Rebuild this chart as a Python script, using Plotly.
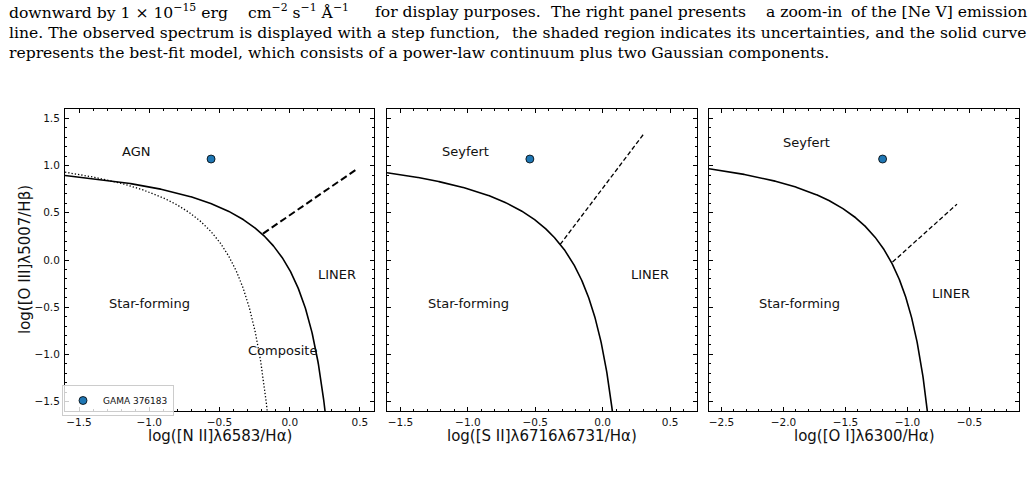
import numpy as np
import plotly.graph_objects as go

# ---------------- data ----------------
# demarcation curves  y = a / (x - b) + c
KE01_NII = (0.61, 0.47, 1.19)   # Kewley+01 (solid)
KA03_NII = (0.61, 0.05, 1.30)   # Kauffmann+03 (dotted)
KE01_SII = (0.72, 0.32, 1.30)
KE01_OI = (0.73, -0.59, 1.33)

# Seyfert / LINER separation lines (end points)
SL_NII_x = [-0.19, 0.47]
SL_NII_y = [0.28, 0.955]
SL_SII_x = [-0.315, 0.30]
SL_SII_y = [0.165, 1.327]
SL_OI_x = [-1.12, -0.60]
SL_OI_y = [-0.022, 0.592]

# GAMA 376183 line ratios
gama_x = [-0.56, -0.54, -1.20]
gama_y = [1.07, 1.07, 1.07]
gama_xerr = [0.02, 0.02, 0.02]
gama_yerr = [0.02, 0.02, 0.02]

x_ranges = [[-1.6, 0.6], [-1.6, 0.7], [-2.6, -0.1]]
y_range = [-1.6, 1.6]
x_titles = ["log([N II]λ6583/Hα)", "log([S II]λ6716λ6731/Hα)", "log([O I]λ6300/Hα)"]
y_title = "log([O III]λ5007/Hβ)"

region_labels = [
    [("AGN", -1.095, 1.15), ("LINER", 0.34, -0.15), ("Star-forming", -1.0, -0.46), ("Composite", -0.05, -0.96)],
    [("Seyfert", -1.02, 1.15), ("LINER", 0.35, -0.15), ("Star-forming", -0.995, -0.46)],
    [("Seyfert", -1.81, 1.245), ("LINER", -0.645, -0.355), ("Star-forming", -1.87, -0.46)],
]

# caption lines, justified text: (text chunk, x pixel, anchor)
caption_lines = [
    [("downward by 1 × 10<sup>−15</sup> erg", 7, "left"),
     ("cm<sup>−2</sup> s<sup>−1</sup> Å<sup>−1</sup>", 246, "left"),
     ("for display purposes.", 373, "left"),
     ("The right panel presents", 549, "left"),
     ("a zoom-in", 764, "left"),
     ("of the [Ne V] emission", 1029, "right")],
    [("line. The observed spectrum is displayed with a step function,", 7, "left"),
     ("the shaded region indicates its uncertainties, and the solid curve", 1029, "right")],
    [("represents the best-fit model, which consists of a power-law continuum plus two Gaussian components.", 7, "left")],
]

# ---------------- figure ----------------
W, H = 1034, 477
fig = go.Figure()

x_px = [(65, 374), (387, 697), (709, 1019)]
y_px = (109, 411)
ydom = [1 - y_px[1] / H, 1 - y_px[0] / H]


def curve(p, x0, ylo):
    a, b, c = p
    x_end = b + a / (ylo - c)
    xs = np.linspace(x0, x_end + 0.002, 600)
    return xs, a / (xs - b) + c


def ax_name(i, kind):
    return kind if i == 0 else f"{kind}{i + 1}"


TXT = "#111111"
FONT = "DejaVu Sans"

for i in range(3):
    xref, yref = ("x" if i == 0 else f"x{i+1}"), ("y" if i == 0 else f"y{i+1}")
    lo = x_ranges[i][0]
    if i == 0:
        xs, ys = curve(KE01_NII, lo, y_range[0])
        fig.add_trace(go.Scatter(x=xs, y=ys, mode="lines", line=dict(color="black", width=1.6),
                                 showlegend=False, xaxis=xref, yaxis=yref, hoverinfo="skip"))
        xs, ys = curve(KA03_NII, lo, y_range[0])
        fig.add_trace(go.Scatter(x=xs, y=ys, mode="lines", line=dict(color="black", width=1.3, dash="1.3px,2px"),
                                 showlegend=False, xaxis=xref, yaxis=yref, hoverinfo="skip"))
        fig.add_trace(go.Scatter(x=SL_NII_x, y=SL_NII_y, mode="lines",
                                 line=dict(color="black", width=2.0, dash="7px,3.5px"),
                                 showlegend=False, xaxis=xref, yaxis=yref, hoverinfo="skip"))
    elif i == 1:
        xs, ys = curve(KE01_SII, lo, y_range[0])
        fig.add_trace(go.Scatter(x=xs, y=ys, mode="lines", line=dict(color="black", width=1.6),
                                 showlegend=False, xaxis=xref, yaxis=yref, hoverinfo="skip"))
        fig.add_trace(go.Scatter(x=SL_SII_x, y=SL_SII_y, mode="lines",
                                 line=dict(color="black", width=1.3, dash="4.5px,2.5px"),
                                 showlegend=False, xaxis=xref, yaxis=yref, hoverinfo="skip"))
    else:
        xs, ys = curve(KE01_OI, lo, y_range[0])
        fig.add_trace(go.Scatter(x=xs, y=ys, mode="lines", line=dict(color="black", width=1.6),
                                 showlegend=False, xaxis=xref, yaxis=yref, hoverinfo="skip"))
        fig.add_trace(go.Scatter(x=SL_OI_x, y=SL_OI_y, mode="lines",
                                 line=dict(color="black", width=1.3, dash="4.5px,2.5px"),
                                 showlegend=False, xaxis=xref, yaxis=yref, hoverinfo="skip"))

    fig.add_trace(go.Scatter(
        x=[gama_x[i]], y=[gama_y[i]], mode="markers",
        marker=dict(color="#1f77b4", size=8, line=dict(color="black", width=0.8)),
        error_x=dict(type="data", array=[gama_xerr[i]], color="black", thickness=1, width=2),
        error_y=dict(type="data", array=[gama_yerr[i]], color="black", thickness=1, width=2),
        name="GAMA 376183", showlegend=(i == 0), xaxis=xref, yaxis=yref))

    common = dict(
        showline=True, linecolor="black", linewidth=1, mirror="allticks",
        ticks="inside", ticklen=4, tickwidth=1, tickcolor="black",
        minor=dict(ticks="inside", ticklen=2, tickwidth=0.8, tickcolor="black", dtick=0.1, showgrid=False),
        showgrid=False, zeroline=False, tickformat=".1f", dtick=0.5, tick0=0,
        tickfont=dict(family=FONT, size=10.5, color=TXT),
    )
    fig.layout[ax_name(i, "xaxis")] = dict(
        common, domain=[x_px[i][0] / W, x_px[i][1] / W], range=x_ranges[i],
        anchor=yref, ticklabelstandoff=1)
    fig.layout[ax_name(i, "yaxis")] = dict(
        common, domain=ydom, range=y_range, anchor=xref,
        showticklabels=(i == 0), ticklabelstandoff=2)

    for txt, tx, ty in region_labels[i]:
        fig.add_annotation(x=tx, y=ty, xref=xref, yref=yref, text=txt, showarrow=False,
                           font=dict(family=FONT, size=13, color=TXT), xanchor="center", yanchor="middle")

    cx = (x_px[i][0] + x_px[i][1]) / 2 / W
    fig.add_annotation(x=cx, y=1 - 436 / H, xref="paper", yref="paper", text=x_titles[i],
                       showarrow=False, font=dict(family=FONT, size=15, color=TXT),
                       xanchor="center", yanchor="middle")

fig.add_annotation(x=25 / W, y=1 - 260 / H, xref="paper", yref="paper", text=y_title, textangle=-90,
                   showarrow=False, font=dict(family=FONT, size=15, color=TXT),
                   xanchor="center", yanchor="middle")

CAP_FONT = dict(family="DejaVu Serif", size=15.6, color="black")
for k, chunks in enumerate(caption_lines):
    yy = 1 - (12 + 20.5 * k) / H
    for text, px, anchor in chunks:
        fig.add_annotation(x=px / W, y=yy, xref="paper", yref="paper", text=text,
                           showarrow=False, font=CAP_FONT, xanchor=anchor, yanchor="middle")

fig.update_layout(
    width=W, height=H, margin=dict(l=0, r=0, t=0, b=0),
    paper_bgcolor="white", plot_bgcolor="white",
    legend=dict(x=62 / W, y=1 - 385 / H, xanchor="left", yanchor="top",
                bgcolor="rgba(255,255,255,0.8)", bordercolor="#cccccc", borderwidth=1,
                font=dict(family=FONT, size=9, color=TXT), itemwidth=30,
                tracegroupgap=0),
)

fig.write_html("out.html")
